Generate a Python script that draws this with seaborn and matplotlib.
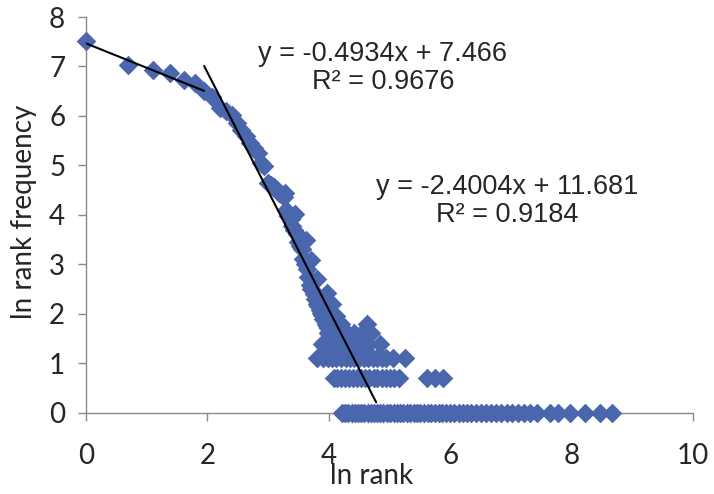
import numpy as np
import pandas as pd
import matplotlib
matplotlib.use("Agg")
import matplotlib.pyplot as plt
import seaborn as sns

# ---- data (ln rank, ln rank frequency) ----
top_x = [0.00, 0.69, 1.10, 1.39, 1.61, 1.79, 1.95, 2.08, 2.20, 2.30, 2.40, 2.48,
         2.56, 2.64, 2.71, 2.77, 2.83, 2.89, 2.94, 3.00, 3.04, 3.09, 3.14, 3.18,
         3.22, 3.26, 3.30, 3.33, 3.37, 3.40, 3.43, 3.47, 3.50, 3.53, 3.56, 3.58,
         3.61, 3.64, 3.66, 3.69, 3.71, 3.74, 3.76, 3.78, 3.81, 3.83, 3.85, 3.87,
         3.89, 3.91, 3.93, 3.95, 3.97, 3.99, 4.01, 4.03]
top_y = [7.52, 7.02, 6.92, 6.86, 6.72, 6.66, 6.50, 6.38, 6.15, 6.10, 6.02, 5.85,
         5.72, 5.60, 5.45, 5.35, 5.25, 5.05, 4.98, 4.65, 4.60, 4.56, 4.50, 4.45,
         4.42, 4.35, 4.10, 3.98, 3.92, 3.78, 3.70, 3.62, 3.45, 3.36, 3.30, 3.10,
         3.00, 2.90, 2.75, 2.58, 2.50, 2.45, 2.40, 2.30, 2.20, 2.15, 2.08, 2.02,
         1.98, 1.90, 1.85, 1.80, 1.75, 1.70, 1.62, 1.55]
extra_x = [3.28, 3.45, 3.62, 3.70, 3.80, 3.97, 4.05, 4.10]
extra_y = [4.45, 4.02, 3.48, 3.08, 2.70, 2.41, 2.20, 1.95]

# points sitting on the discrete frequency levels
levels = {
    1.95: [3.92, 4.00, 4.12],
    1.79: [4.02, 4.10, 4.20, 4.63],
    1.61: [3.98, 4.08, 4.18, 4.30, 4.42, 4.55, 4.70],
    1.39: [3.88, 3.95, 4.05, 4.15, 4.25, 4.35, 4.45, 4.55, 4.65, 4.85],
    1.10: [3.81, 3.90, 3.98, 4.05, 4.12, 4.20, 4.28, 4.35, 4.42, 4.50, 4.58,
           4.65, 4.72, 4.80, 4.88, 4.95, 5.06, 5.26],
    0.69: [4.08, 4.14, 4.20, 4.27, 4.33, 4.40, 4.47, 4.53, 4.60, 4.67, 4.74,
           4.80, 4.87, 4.94, 5.00, 5.08, 5.15, 5.62, 5.75, 5.88],
    0.00: [4.22, 4.27, 4.32, 4.38, 4.43, 4.48, 4.53, 4.58, 4.64, 4.69, 4.74,
           4.80, 4.85, 4.90, 4.96, 5.01, 5.07, 5.12, 5.18, 5.23, 5.29, 5.34,
           5.40, 5.46, 5.51, 5.57, 5.63, 5.69, 5.75, 5.81, 5.87, 5.93, 6.00,
           6.07, 6.14, 6.21, 6.28, 6.35, 6.43, 6.51, 6.59, 6.67, 6.75, 6.84,
           6.93, 7.02, 7.12, 7.22, 7.32, 7.43, 7.64, 7.78, 7.97, 8.22, 8.47, 8.67],
}

# trendlines (coefficients from the chart labels, x range of each fit)
fit1 = {"slope": -0.4934, "icept": 7.466, "x": [0.0, 1.946], "r2": 0.9676}
fit2 = {"slope": -2.4004, "icept": 11.681, "x": [1.946, 4.78], "r2": 0.9184}

xs = top_x + extra_x
ys = top_y + extra_y
for lev, xl in levels.items():
    xs += xl
    ys += [lev] * len(xl)
df = pd.DataFrame({"ln rank": xs, "ln rank frequency": ys})

# ---- style ----
BLUE = "#4A66AC"
AXIS = "#898989"
sns.set_style("ticks")
plt.rcParams["font.family"] = ["Lato", "DejaVu Sans"]

fig = plt.figure(figsize=(7.14, 4.94), dpi=100)
ax = fig.add_axes([86 / 714, 1 - 412.5 / 494, 607 / 714, 395.5 / 494])

sns.scatterplot(data=df, x="ln rank", y="ln rank frequency", marker="D", s=100,
                color=BLUE, linewidth=0, ax=ax, clip_on=False, zorder=3)

for fit in (fit1, fit2):
    fx = np.array(fit["x"])
    fy = fit["slope"] * fx + fit["icept"]
    sns.lineplot(x=fx, y=fy, color="black", linewidth=1.5, ax=ax, zorder=4)

ax.set_xlim(0, 10)
ax.set_ylim(0, 8)
ax.set_xticks([0, 2, 4, 6, 8, 10])
ax.set_yticks(range(0, 9))
ax.set_xlabel("")
ax.set_ylabel("")
sns.despine(ax=ax)
for sp in ("left", "bottom"):
    ax.spines[sp].set_color(AXIS)
    ax.spines[sp].set_linewidth(1.0)
ax.tick_params(axis="x", length=6, width=1.0, color=AXIS, labelsize=20, pad=16)
ax.tick_params(axis="y", length=6, width=1.0, color=AXIS, labelsize=20, pad=9)

fig.text(372 / 714, 1 - 476 / 494, "ln rank", ha="center", va="center", fontsize=20)
fig.text(24 / 714, 1 - 212 / 494, "ln rank frequency", ha="center", va="center",
         rotation=90, fontsize=20)

for fit, (px, py) in zip((fit1, fit2), ((383, 68), (507, 201))):
    label = f"y = {fit['slope']:.4f}x + {fit['icept']:g}\nR\u00b2 = {fit['r2']:.4f}"
    fig.text(px / 714, 1 - py / 494, label, ha="center", va="center",
             multialignment="center", fontsize=19.5, family="Liberation Sans",
             linespacing=1.1)

fig.savefig("out.png", dpi=100)
